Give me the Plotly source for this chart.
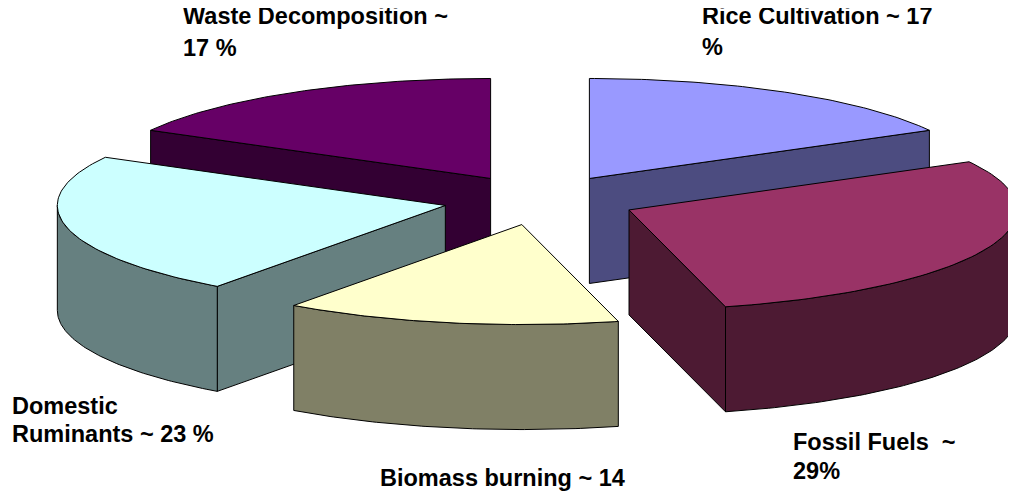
import numpy as np
import plotly.graph_objects as go

# ---- data ----
labels = ["Rice Cultivation", "Fossil Fuels", "Biomass burning", "Domestic Ruminants", "Waste Decomposition"]
values = [17, 29, 14, 23, 17]
top_colors = ["#9999FF", "#993366", "#FFFFCC", "#CCFFFF", "#660066"]
side_colors = ["#4C4C80", "#4D1A33", "#808066", "#668080", "#330033"]
label_lines = [
    ["Rice Cultivation ~ 17", "%"],
    ["Fossil Fuels\u00a0 ~", "29%"],
    ["Biomass burning ~ 14"],
    ["Domestic", "Ruminants ~ 23 %"],
    ["Waste Decomposition ~", "17 %"],
]

# ---- view / style (pixel space of the page) ----
W, H = 1016, 500
PAGE_OFF = 8             # default body margin of the html page
CX, CY = 540, 200        # pie centre
RX, RY = 388, 100        # ellipse radii of the tilted pie
DEPTH = 105              # thickness of the 3D pie
EXPLODE = 0.25           # explosion distance (fraction of radius)
label_pos = [  # (x, [y per line]) anchor positions for the labels
    (700, [16, 47]),
    (791, [442, 471]),
    (378, [478]),
    (10, [406, 434]),
    (181, [16, 48]),
]
FONT = dict(family="Liberation Sans, Arial, sans-serif", size=23.5, color="black")

total = float(sum(values))
angles = np.cumsum([0] + values) / total * 360.0


def pt(vx, vy, theta_deg, dz=0.0):
    t = np.radians(theta_deg)
    return vx + RX * np.sin(t), vy - RY * np.cos(t) + dz


def arc(vx, vy, a, b, dz=0.0, n=80):
    th = np.linspace(a, b, n)
    t = np.radians(th)
    return list(vx + RX * np.sin(t)), list(vy - RY * np.cos(t) + dz)


fig = go.Figure()


def poly(xs, ys, color):
    fig.add_trace(go.Scatter(
        x=xs + [xs[0]], y=ys + [ys[0]], mode="lines", fill="toself",
        fillcolor=color, line=dict(color="black", width=1),
        hoverinfo="skip", showlegend=False))


slices = []
for i, v in enumerate(values):
    a, b = angles[i], angles[i + 1]
    m = np.radians((a + b) / 2)
    vx = CX + EXPLODE * RX * np.sin(m)
    vy = CY - EXPLODE * RY * np.cos(m)
    slices.append((i, a, b, vx, vy, np.cos(m)))

# back slices first
for i, a, b, vx, vy, cm in sorted(slices, key=lambda s: -s[5]):
    # radial face at start edge
    if np.sin(np.radians(a)) < -1e-6:
        ex, ey = pt(vx, vy, a)
        poly([vx, ex, ex, vx], [vy, ey, ey + DEPTH, vy + DEPTH], side_colors[i])
    # radial face at end edge
    if np.sin(np.radians(b)) > 1e-6:
        ex, ey = pt(vx, vy, b)
        poly([vx, ex, ex, vx], [vy, ey, ey + DEPTH, vy + DEPTH], side_colors[i])
    # curved outer side (front half only)
    lo, hi = max(a, 90.0), min(b, 270.0)
    if hi > lo:
        tx, ty = arc(vx, vy, lo, hi)
        bx, by = arc(vx, vy, lo, hi, DEPTH)
        poly(tx + bx[::-1], ty + by[::-1], side_colors[i])
    # top face
    tx, ty = arc(vx, vy, a, b)
    poly([vx] + tx, [vy] + ty, top_colors[i])

annotations = []
for i, lines in enumerate(label_lines):
    x0, ys = label_pos[i]
    for txt, yy in zip(lines, ys):
        annotations.append(dict(
            x=x0, y=yy, xref="x", yref="y", text="<b>" + txt + "</b>",
            showarrow=False, xanchor="left", yanchor="middle", font=FONT))

fig.update_layout(
    width=W, height=H,
    margin=dict(l=0, r=0, t=0, b=0),
    paper_bgcolor="white", plot_bgcolor="white",
    xaxis=dict(range=[PAGE_OFF, PAGE_OFF + W], visible=False, fixedrange=True),
    yaxis=dict(range=[PAGE_OFF + H, PAGE_OFF], visible=False, fixedrange=True),
    annotations=annotations,
    showlegend=False,
)

fig.write_html("out.html")
